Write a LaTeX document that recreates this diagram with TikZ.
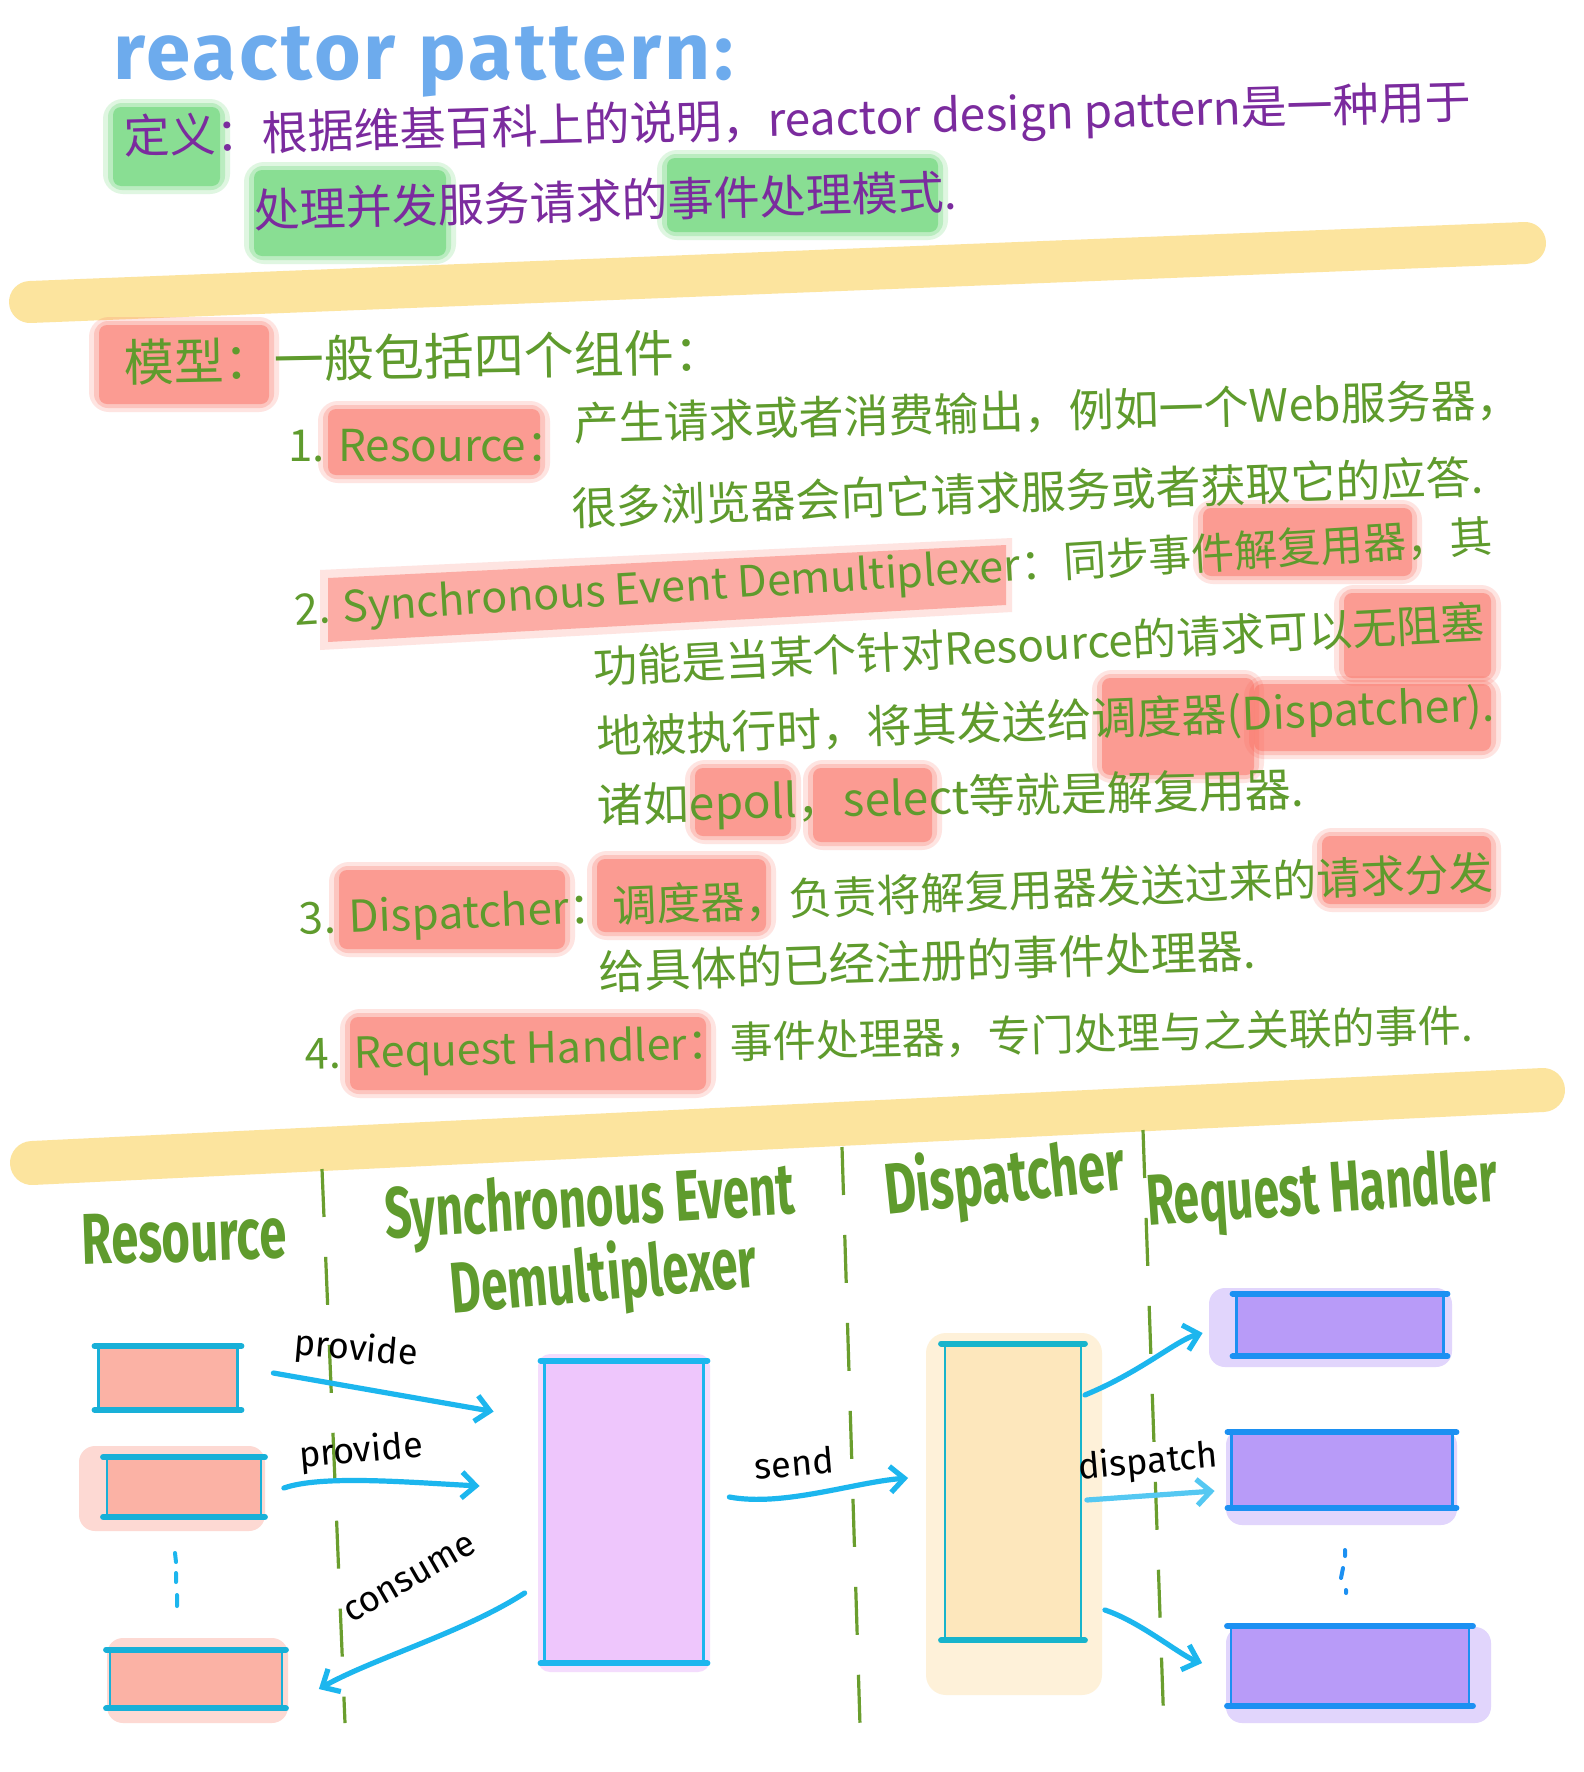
\documentclass[tikz,border=0pt]{standalone}
\usepackage{fontspec}
\usepackage{graphicx}
\setmainfont{Fira Sans}
\newfontfamily\cjk{Noto Sans CJK SC}
\newfontfamily\hand{Fira Sans}
\newfontfamily\titlefont[LetterSpace=4]{Fira Sans}
\usetikzlibrary{arrows.meta,calc}
\pgfdeclarelayer{bg}
\pgfsetlayers{bg,main}
\definecolor{titleblue}{HTML}{3D8FE8}
\definecolor{defpurple}{HTML}{7B2B9E}
\definecolor{textgreen}{HTML}{5F9B2D}
\definecolor{hlgreen}{HTML}{4FCF5E}
\definecolor{hlred}{HTML}{FA6A5C}
\definecolor{stripecol}{HTML}{FCDC7E}
\definecolor{cyanline}{HTML}{1CB6EE}
\definecolor{resfill}{HTML}{FBB2A5}
\definecolor{resline}{HTML}{18B0D8}
\definecolor{sedfill}{HTML}{EEC6FC}
\definecolor{dispfill}{HTML}{FDE7BC}
\definecolor{displine}{HTML}{17B4CC}
\definecolor{rhfill}{HTML}{B89BF8}
\definecolor{rhline}{HTML}{1C90F2}
\definecolor{sepgreen}{HTML}{6A9E2E}
\newcommand\softhl[3]{%
  \fill[#1,opacity=0.18,rounded corners=10pt] ($#2+(-10,-8)$) rectangle ($#3+(10,8)$);
  \fill[#1,opacity=0.25,rounded corners=7pt] ($#2+(-5,-4)$) rectangle ($#3+(5,4)$);
  \fill[#1,opacity=0.45,rounded corners=4pt] #2 rectangle #3;}
\newcommand\boxedges[2]{%
  \draw[#2, line width=1.3pt] (#1.north west) -- (#1.south west) (#1.north east) -- (#1.south east);
  \draw[#2, line width=3pt, line cap=round] ([xshift=-2pt]#1.north west) -- ([xshift=2pt]#1.north east)
     ([xshift=-2pt]#1.south west) -- ([xshift=2pt]#1.south east);}
\begin{document}
\begin{tikzpicture}[x=0.5pt,y=-0.5pt,
  defl/.style={font=\cjk\fontsize{23}{26}\selectfont, text=defpurple, anchor=west, inner sep=0pt},
  body/.style={font=\cjk\fontsize{22}{26}\selectfont, text=textgreen, anchor=west, inner sep=0pt},
  head/.style={font=\hand\bfseries\fontsize{36}{40}\selectfont, text=textgreen, inner sep=0pt},
  titlestyle/.style={font=\titlefont\bfseries\fontsize{40}{44}\selectfont, text=titleblue, anchor=west, inner sep=0pt, opacity=0.75},
  lbl/.style={font=\hand\fontsize{18}{20}\selectfont, text=black, inner sep=0pt},
  sepline/.style={sepgreen, line width=1.6pt, dash pattern=on 24pt off 20pt},
  stripe/.style={stripecol, line width=21pt, line cap=round, opacity=0.75},
  flow/.style={cyanline, line width=2.6pt, line cap=round, -{Straight Barb[length=7pt,width=13pt]}},
  resbox/.style={fill=resfill, inner sep=0pt},
  sedbox/.style={fill=sedfill, inner sep=0pt},
  dispbox/.style={fill=dispfill, inner sep=0pt},
  rhbox/.style={fill=rhfill, inner sep=0pt},
]
\begin{pgfonlayer}{bg}
\fill[white] (0,0) rectangle (1584,1772);
\end{pgfonlayer}
\useasboundingbox (0,0) rectangle (1584,1772);

% title
\node[titlestyle] (title) at (113,62) {reactor pattern:};

% green highlights
\softhl{hlgreen}{(113,107)}{(220,186)}
\softhl{hlgreen}{(254,170)}{(446,256)}
\softhl{hlgreen}{(667,158)}{(938,232)}

% definition
\node[defl, rotate=1.5] (def1) at (124,140) {定义：根据维基百科上的说明，reactor design pattern是一种用于};
\node[defl, rotate=1.5] (def2) at (254,210) {处理并发服务请求的事件处理模式.};

% yellow stripes
\draw[stripe] (30,302) -- (1525,243);
\draw[stripe, line width=22pt] (32,1163) -- (1543,1090);

% red highlights
\softhl{hlred}{(99,325)}{(269,404)}
\softhl{hlred}{(328,409)}{(540,475)}
\fill[hlred,opacity=0.18] (320,570) -- (1012,538) -- (1012,612) -- (320,650) -- cycle;
\fill[hlred,opacity=0.45] (328,578) -- (1006,545) -- (1006,605) -- (328,642) -- cycle;
\softhl{hlred}{(1203,508)}{(1412,576)}
\softhl{hlred}{(1344,593)}{(1491,678)}
\softhl{hlred}{(1102,678)}{(1254,775)}
\softhl{hlred}{(1254,684)}{(1491,751)}
\softhl{hlred}{(695,768)}{(791,836)}
\softhl{hlred}{(813,768)}{(932,842)}
\softhl{hlred}{(339,870)}{(565,949)}
\softhl{hlred}{(597,859)}{(766,932)}
\softhl{hlred}{(1322,836)}{(1491,904)}
\softhl{hlred}{(350,1017)}{(706,1090)}

% model text
\node[body, font=\cjk\fontsize{25}{28}\selectfont, rotate=1] (model) at (124,362) {模型：一般包括四个组件：};
\node[body] (i1) at (288,446) {1. Resource：};
\node[body, font=\cjk\fontsize{22.5}{26}\selectfont, rotate=1.5] (i1a) at (574,424) {产生请求或者消费输出，例如一个Web服务器，};
\node[body, font=\cjk\fontsize{22.5}{26}\selectfont, rotate=2] (i1b) at (571,508) {很多浏览器会向它请求服务或者获取它的应答.};
\node[body, font=\cjk\fontsize{21.5}{26}\selectfont, rotate=3.5] (i2) at (294,612) {2. Synchronous Event Demultiplexer：同步事件解复用器，其};
\node[body, rotate=2.9] (i2a) at (593,667) {功能是当某个针对Resource的请求可以无阻塞};
\node[body, font=\cjk\fontsize{22.5}{26}\selectfont, rotate=2.1] (i2b) at (597,740) {地被执行时，将其发送给调度器(Dispatcher).};
\node[body, font=\cjk\fontsize{23}{26}\selectfont, rotate=1.3] (i2c) at (597,808) {诸如epoll，select等就是解复用器.};
\node[body, rotate=2.2] (i3) at (299,921) {3. Dispatcher：调度器，负责将解复用器发送过来的请求分发};
\node[body, font=\cjk\fontsize{23}{26}\selectfont, rotate=1.9] (i3a) at (599,972) {给具体的已经注册的事件处理器.};
\node[body, font=\cjk\fontsize{21.5}{26}\selectfont, rotate=1.4] (i4) at (305,1056) {4. Request Handler：事件处理器，专门处理与之关联的事件.};

% lane separators
\draw[sepline] (322,1169) -- (345,1723);
\draw[sepline] (842,1147) -- (861,1757);
\draw[sepline] (1143,1130) -- (1164,1729);

% headers
\node[head, rotate=2] (hres) at (184,1237) {\scalebox{0.68}[1]{Resource}};
\node[head, rotate=3.5] (hsed1) at (590,1207) {\scalebox{0.66}[1]{Synchronous Event}};
\node[head, rotate=5] (hsed2) at (604,1279) {\scalebox{0.66}[1]{Demultiplexer}};
\node[head, rotate=6] (hdisp) at (1005,1181) {\scalebox{0.68}[1]{Dispatcher}};
\node[head, rotate=4] (hrh) at (1322,1194) {\scalebox{0.64}[1]{Request Handler}};

% boxes
\node[resbox, minimum width=69pt, minimum height=31.5pt] (r1) at (168,1378) {};
\node[resbox, minimum width=76.5pt, minimum height=29.5pt] (r2) at (184,1487) {};
\node[resbox, minimum width=85.5pt, minimum height=29pt] (r3) at (196,1679) {};
\node[sedbox, minimum width=79pt, minimum height=151pt] (sed) at (624,1512) {};
\node[dispbox, minimum width=67.5pt, minimum height=148pt] (disp) at (1013,1492) {};
\node[rhbox, minimum width=103pt, minimum height=31pt] (rh1) at (1340,1325) {};
\node[rhbox, minimum width=110pt, minimum height=37.5pt] (rh2) at (1342,1470) {};
\node[rhbox, minimum width=118.5pt, minimum height=39.5pt] (rh3) at (1350,1666) {};

\begin{pgfonlayer}{bg}
\fill[resfill!80,opacity=0.6,rounded corners=8pt] (79,1446) rectangle (265,1531);
\fill[resfill!80,opacity=0.6,rounded corners=8pt] (107,1638) rectangle (288,1723);
\fill[sedfill,opacity=0.6,rounded corners=6pt] (538,1354) rectangle (710,1672);
\fill[dispfill!70,opacity=0.8,rounded corners=10pt] (926,1333) rectangle (1102,1695);
\fill[rhfill!70,opacity=0.6,rounded corners=8pt] (1209,1288) rectangle (1452,1367);
\fill[rhfill!70,opacity=0.6,rounded corners=8pt] (1226,1429) rectangle (1457,1525);
\fill[rhfill!70,opacity=0.6,rounded corners=8pt] (1226,1627) rectangle (1491,1723);
\end{pgfonlayer}

\boxedges{r1}{resline}
\boxedges{r2}{resline}
\boxedges{r3}{resline}
\boxedges{sed}{cyanline}
\boxedges{disp}{displine}
\boxedges{rh1}{rhline}
\boxedges{rh2}{rhline}
\boxedges{rh3}{rhline}

% ellipsis dots
\draw[cyanline, line width=2pt, line cap=round] (175,1553) -- (176,1562) (176,1573) -- (176,1582) (177,1595) -- (177,1606);
\draw[rhline, line width=2pt, line cap=round] (1345,1550) -- (1345,1556) (1343,1568) -- (1341,1578) (1346,1590) -- (1346,1593);

% arrows
\draw[flow] ([shift={(36,-5)}]r1.east) -- ([shift={(-51,51)}]sed.north west);
\draw[flow] ([shift={(23,1)}]r2.east) .. controls ([shift={(60,-12)}]r2.east) and ([shift={(-140,-30)}]sed.west) .. ([shift={(-65,-26)}]sed.west);
\draw[flow] ([shift={(-20,81)}]sed.west) .. controls ([shift={(-80,120)}]sed.west) and ([shift={(90,-20)}]r3.east) .. ([shift={(37,10)}]r3.east);
\draw[flow] ([shift={(26,-15)}]sed.east) .. controls ([shift={(80,-5)}]sed.east) and ([shift={(-90,-10)}]disp.west) .. ([shift={(-37,-14)}]disp.west);
\draw[flow] ([shift={(4,-97)}]disp.east) .. controls ([shift={(60,-120)}]disp.east) and ([shift={(-60,15)}]rh1.west) .. ([shift={(-34,8)}]rh1.west);
\draw[flow, cyanline!75] ([shift={(6,8)}]disp.east) -- ([shift={(-17,21)}]rh2.west);
\draw[flow] ([shift={(24,118)}]disp.east) .. controls ([shift={(60,130)}]disp.east) and ([shift={(-50,-10)}]rh3.west) .. ([shift={(-29,-3)}]rh3.west);

% arrow labels
\node[lbl, rotate=-5] (lp1) at (356,1350) {provide};
\node[lbl, rotate=5] (lp2) at (361,1452) {provide};
\node[lbl, rotate=30] (lc) at (410,1579) {consume};
\node[lbl, rotate=5] (ls) at (794,1463) {send};
\node[lbl, rotate=5] (ld) at (1148,1463) {dispatch};
\end{tikzpicture}
\end{document}
